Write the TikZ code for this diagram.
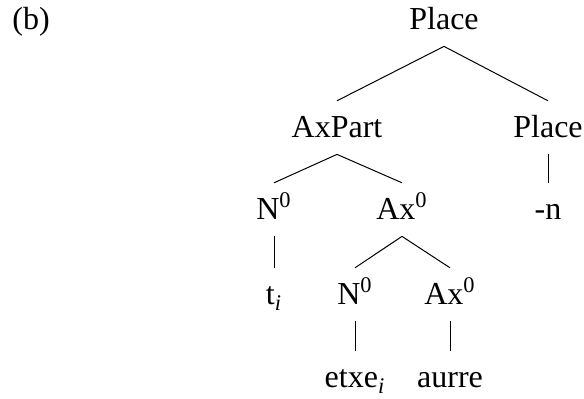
\documentclass[tikz,border=0pt]{standalone}
\usepackage{fontspec}
\setmainfont{Liberation Serif}
\usetikzlibrary{positioning}
\tikzset{
  cat/.style={anchor=base, inner xsep=0pt, inner ysep=8pt, text height=10.4pt,
              text depth=0pt, font=\fontsize{16}{19}\selectfont},
  branch/.style={black, line width=0.5pt},
}
\newcommand{\zero}[1]{#1\textsuperscript{0}}
\newcommand{\idx}[1]{#1\textsubscript{\textit{i}}}

\begin{document}
\begin{tikzpicture}[x=0.5pt, y=-0.5pt]
        \useasboundingbox (0,0) rectangle (584,399);
        \node[cat, anchor=base west] (lab) at (12,30) {(b)};
        % tree nodes, one row per level
        \node[cat] (place) at (444,30) {Place};
        \node[cat] (axpart) at (337,138) {AxPart};
        \node[cat] (placehd) at (548,138) {Place};
        \node[cat] (nup) at (274,220) {\zero{N}};
        \node[cat] (axup) at (402,220) {\zero{Ax}};
        \node[cat] (negn) at (548,220) {-n};
        \node[cat] (trace) at (274,305) {\idx{t}};
        \node[cat] (nlow) at (355,305) {\zero{N}};
        \node[cat] (axlow) at (450,305) {\zero{Ax}};
        \node[cat] (etxe) at (355,388) {\idx{etxe}};
        \node[cat] (aurre) at (450,388) {aurre};
        \foreach \p/\c in {place/axpart, place/placehd, placehd/negn,
                           axpart/nup, axpart/axup, nup/trace,
                           axup/nlow, axup/axlow, nlow/etxe, axlow/aurre}
          {\draw[branch] (\p.south) -- (\c.north);}
      \end{tikzpicture}
\end{document}
